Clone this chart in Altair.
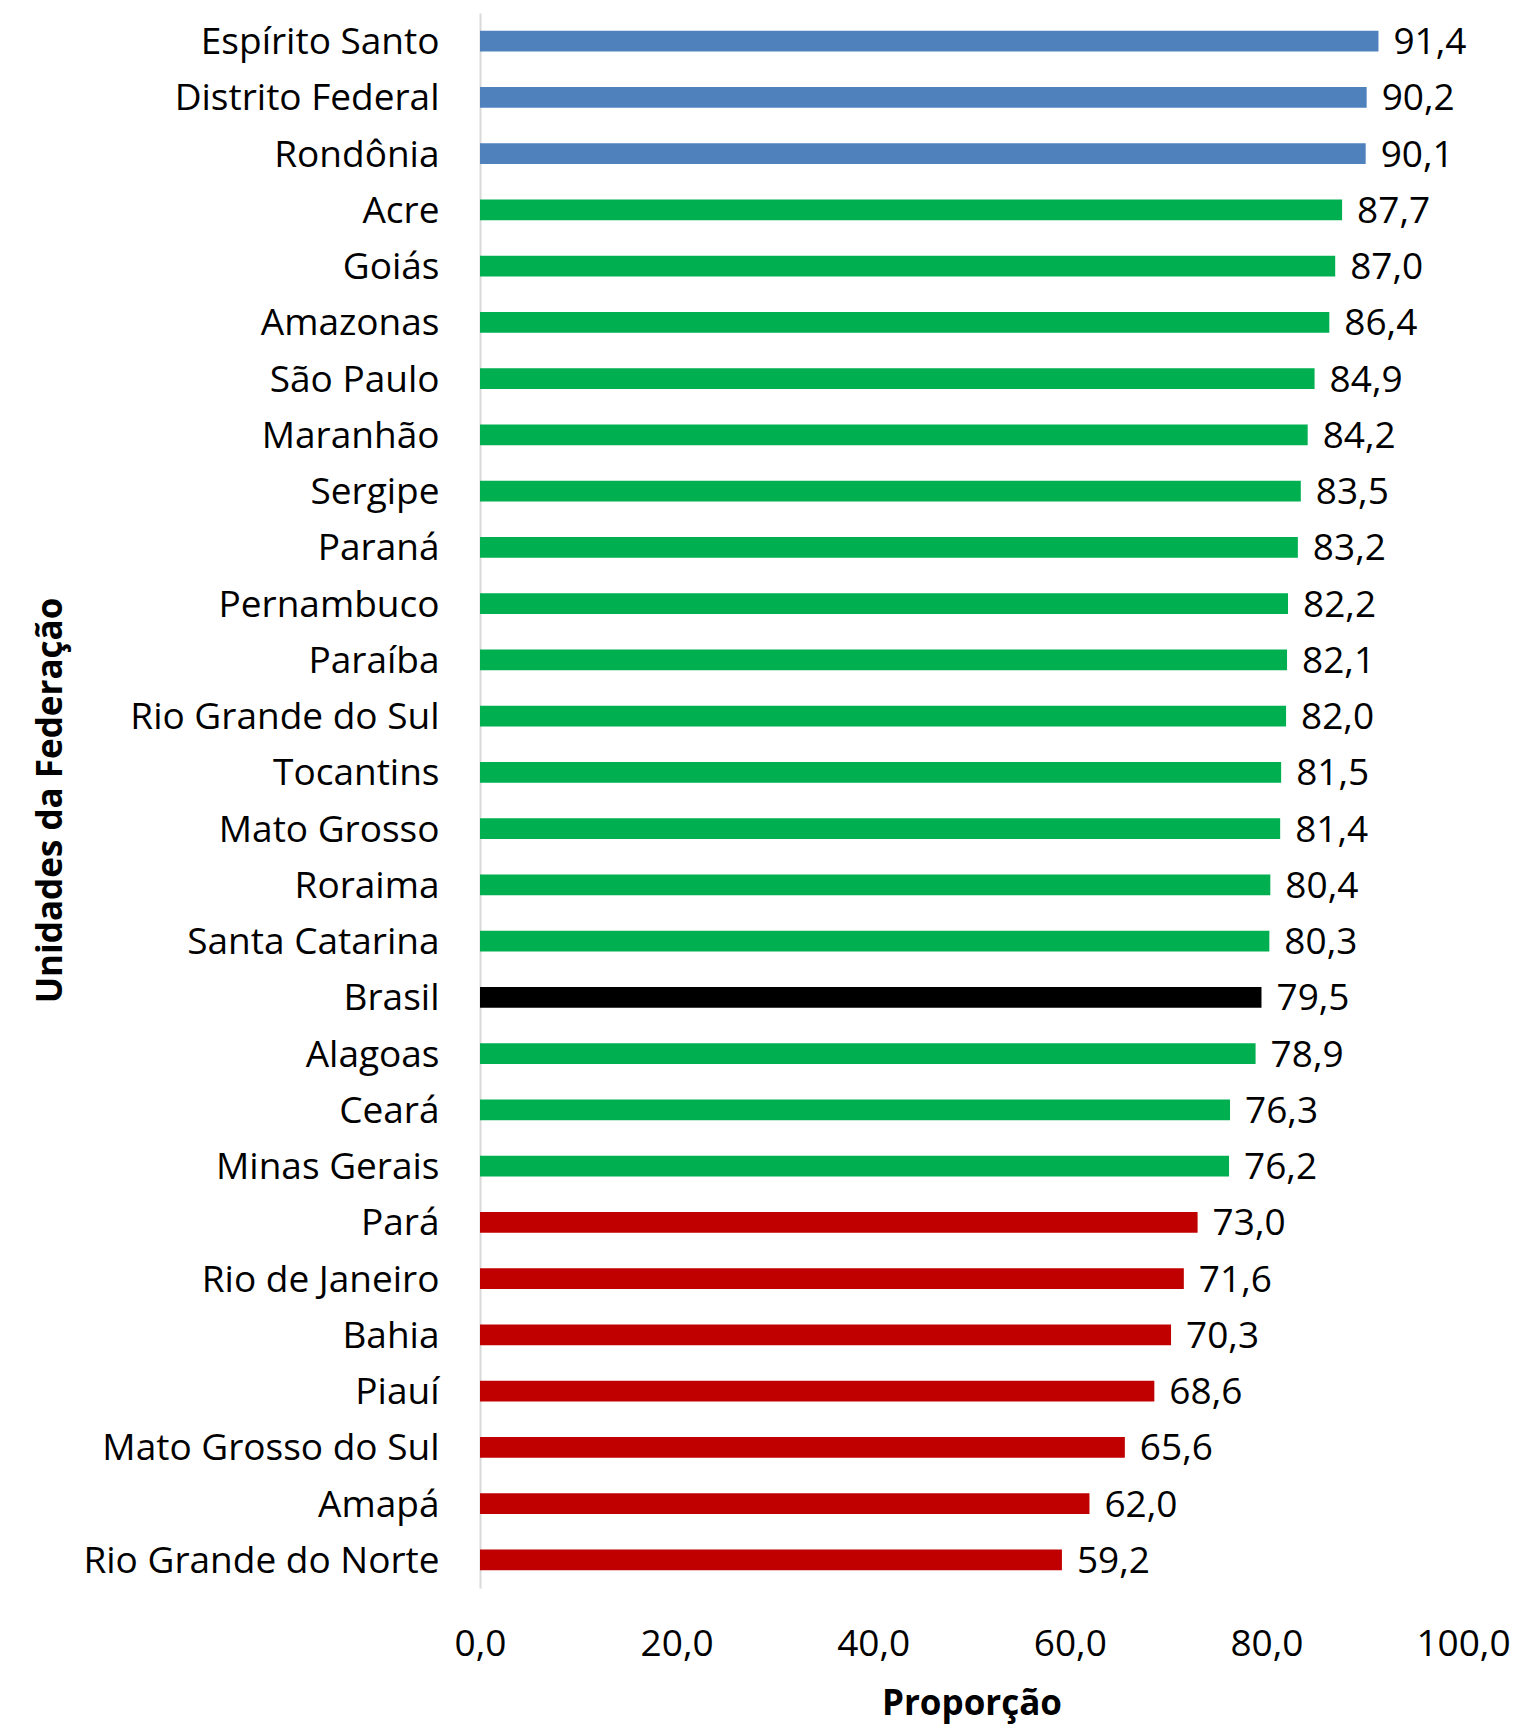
import altair as alt
import pandas as pd

# Unidades da Federação, de cima para baixo
ufs = [
    "Espírito Santo", "Distrito Federal", "Rondônia", "Acre", "Goiás",
    "Amazonas", "São Paulo", "Maranhão", "Sergipe", "Paraná",
    "Pernambuco", "Paraíba", "Rio Grande do Sul", "Tocantins", "Mato Grosso",
    "Roraima", "Santa Catarina", "Brasil", "Alagoas", "Ceará",
    "Minas Gerais", "Pará", "Rio de Janeiro", "Bahia", "Piauí",
    "Mato Grosso do Sul", "Amapá", "Rio Grande do Norte",
]
proporcao = [
    91.4, 90.2, 90.1, 87.7, 87.0,
    86.4, 84.9, 84.2, 83.5, 83.2,
    82.2, 82.1, 82.0, 81.5, 81.4,
    80.4, 80.3, 79.5, 78.9, 76.3,
    76.2, 73.0, 71.6, 70.3, 68.6,
    65.6, 62.0, 59.2,
]
grupo = (
    ["alto"] * 3
    + ["medio"] * 14
    + ["brasil"]
    + ["medio"] * 3
    + ["baixo"] * 7
)

grupos = ["alto", "medio", "brasil", "baixo"]
cores = ["#4F81BD", "#00B050", "#000000", "#C00000"]

df = pd.DataFrame({"uf": ufs, "valor": proporcao, "grupo": grupo})
df["rotulo"] = df["valor"].map(lambda v: f"{v:.1f}".replace(".", ","))

FONT = "Open Sans"
SIZE = 37
TITLE_SIZE = 35

base = alt.Chart(df)

bars = base.mark_bar().encode(
    y=alt.Y(
        "uf:N",
        sort=ufs,
        scale=alt.Scale(paddingInner=0.63, paddingOuter=0.315),
        axis=alt.Axis(
            title="Unidades da Federação",
            titleFont=FONT,
            titleFontSize=TITLE_SIZE,
            titleFontWeight="bold",
            titleColor="#000000",
            titleAngle=270,
            titleX=-430,
            titleY=787,
            titleAlign="center",
            titleBaseline="middle",
            labelFont=FONT,
            labelFontSize=SIZE,
            labelColor="#000000",
            labelPadding=41,
            labelOffset=2,
            labelLimit=0,
            ticks=False,
            domainColor="#D9D9D9",
            domainWidth=2,
        ),
    ),
    x=alt.X(
        "valor:Q",
        scale=alt.Scale(domain=[0, 100], nice=False),
        axis=alt.Axis(
            title="Proporção",
            titleFont=FONT,
            titleFontSize=TITLE_SIZE,
            titleFontWeight="bold",
            titleColor="#000000",
            titleY=115,
            titleBaseline="middle",
            values=[0, 20, 40, 60, 80, 100],
            labelExpr="replace(format(datum.value, '.1f'), '.', ',')",
            labelFont=FONT,
            labelFontSize=SIZE,
            labelColor="#000000",
            labelPadding=38,
            labelFlush=False,
            ticks=False,
            domain=False,
            grid=False,
        ),
    ),
    color=alt.Color(
        "grupo:N",
        scale=alt.Scale(domain=grupos, range=cores),
        legend=None,
    ),
)

labels = base.mark_text(
    align="left", baseline="middle", dx=15, dy=2,
    font=FONT, fontSize=SIZE, color="#000000",
).encode(
    y=alt.Y("uf:N", sort=ufs),
    x="valor:Q",
    text="rotulo:N",
)

chart = (
    (bars + labels)
    .properties(
        width=983,
        height=1575,
        autosize=alt.AutoSizeParams(type="none"),
        padding={"left": 480, "top": 13, "right": 58, "bottom": 136},
        background="#FFFFFF",
    )
    .configure_view(stroke=None)
)

chart.save("out.html", embed_options={"renderer": "svg", "actions": False})
